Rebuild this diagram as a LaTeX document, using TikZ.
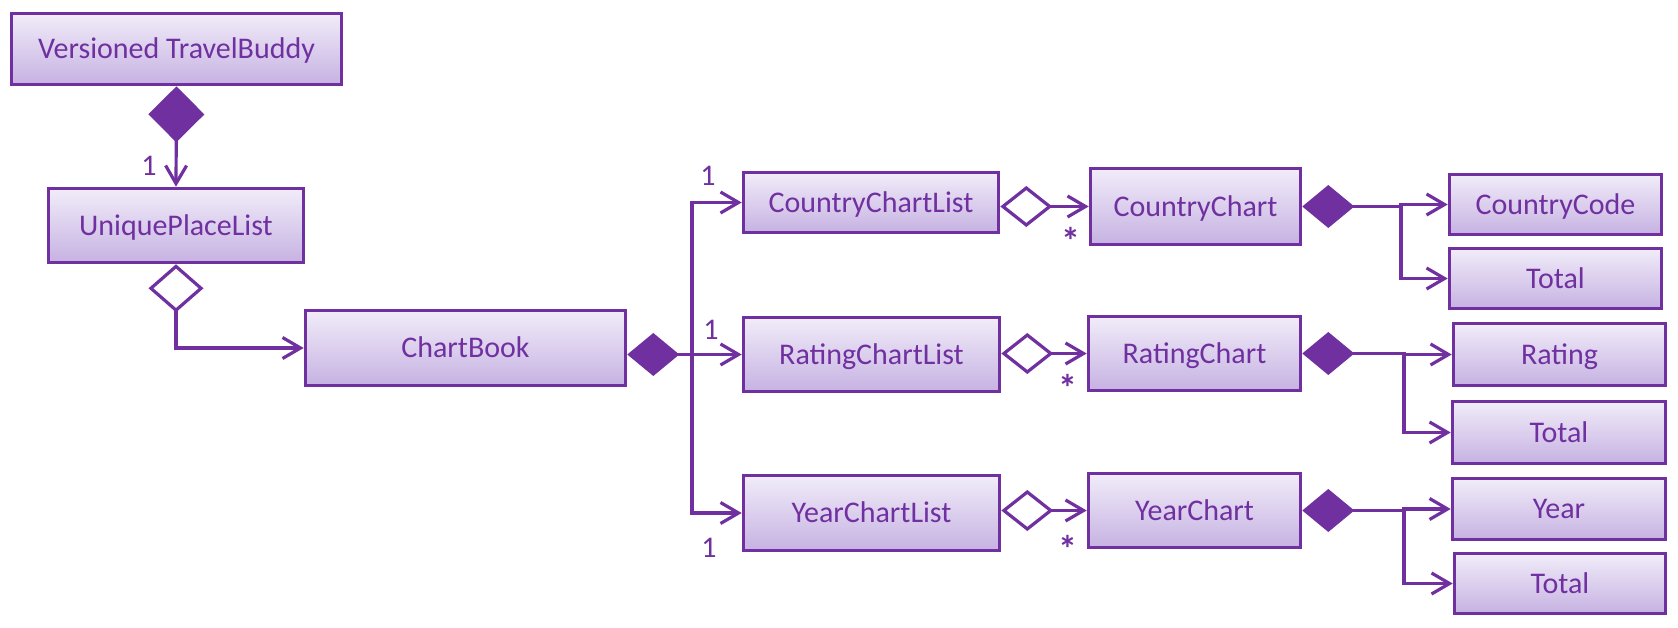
\documentclass[tikz,border=0pt]{standalone}
\usepackage{fontspec}
\setmainfont{Carlito}
\usetikzlibrary{arrows.meta}
\definecolor{pborder}{RGB}{112,48,160}
\definecolor{ptop}{RGB}{241,236,249}
\definecolor{pbot}{RGB}{198,178,226}
\begin{document}
\begin{tikzpicture}[x=1pt,y=-1pt,
  cls/.style={draw=pborder, line width=3.6pt, top color=ptop, bottom color=pbot,
    text=pborder, inner sep=0pt, font=\fontsize{30}{35}\selectfont,
    text height=19.3pt, text depth=0pt},
  lbl/.style={text=pborder, inner sep=0pt, font=\fontsize{30}{35}\selectfont,
    text height=18.9pt, text depth=0pt},
  star/.style={text=pborder, inner sep=0pt, font=\fontsize{38}{40}\selectfont\bfseries,
    text height=24.5pt, text depth=0pt, anchor=north},
  conn/.style={draw=pborder, line width=3.2pt},
  assoc/.style={conn, -{Straight Barb[length=18pt,width=21pt]}},
  compo/.style={conn, {Diamond[length=52pt,width=43pt]}-{Straight Barb[length=18pt,width=21pt]}},
  compov/.style={conn, {Diamond[length=56pt,width=56pt]}-{Straight Barb[length=18pt,width=21pt]}},
  aggr/.style={conn, {Diamond[fill=white,length=52pt,width=41pt]}-{Straight Barb[length=18pt,width=21pt]}},
  aggrv/.style={conn, {Diamond[fill=white,length=48pt,width=55pt]}-{Straight Barb[length=18pt,width=21pt]}},
]
\useasboundingbox (0,0) rectangle (1678,628);

\node[cls, minimum width=330pt, minimum height=71pt] (vtb) at (176.5,49) {Versioned TravelBuddy};
\node[cls, minimum width=255pt, minimum height=74pt] (upl) at (176,225.5) {UniquePlaceList};
\node[cls, minimum width=320pt, minimum height=75pt] (cb) at (465.5,348) {ChartBook};

\node[cls, minimum width=255pt, minimum height=60pt] (ccl) at (871,202.5) {CountryChartList};
\node[cls, minimum width=256pt, minimum height=74pt] (rcl) at (871.5,354.5) {RatingChartList};
\node[cls, minimum width=256pt, minimum height=75pt] (ycl) at (871.5,513) {YearChartList};

\node[cls, minimum width=210pt, minimum height=76pt] (cc) at (1195.5,206.5) {CountryChart};
\node[cls, minimum width=212pt, minimum height=74pt] (rc) at (1194.5,353.5) {RatingChart};
\node[cls, minimum width=212pt, minimum height=74pt] (yc) at (1194.5,510.5) {YearChart};

\node[cls, minimum width=212pt, minimum height=60pt] (ccode) at (1555.5,204.5) {CountryCode};
\node[cls, minimum width=212pt, minimum height=60pt] (tot1) at (1555.5,278.5) {Total};
\node[cls, minimum width=212pt, minimum height=62pt] (rat) at (1559.5,354.5) {Rating};
\node[cls, minimum width=213pt, minimum height=62pt] (tot2) at (1559,432.5) {Total};
\node[cls, minimum width=213pt, minimum height=61pt] (year) at (1559,509) {Year};
\node[cls, minimum width=211pt, minimum height=60pt] (tot3) at (1560,583.5) {Total};

% connectors
\draw[compov] (vtb.south) -- (upl.north);
\node[lbl] (l1) at (149,166) {1};

\draw[aggrv] (upl.south) |- (cb.west);

\coordinate (bus) at (692,354.5);
\draw[compo] (cb.east |- rcl.west) -- (rcl.west);
\draw[assoc] (bus) |- (ccl.west);
\draw[assoc] (bus) |- (ycl.west);
\node[lbl] (l2) at (708,176) {1};
\node[lbl] (l3) at (711,330) {1};
\node[lbl] (l4) at (709,548) {1};

\draw[aggr] (ccl.east |- cc.west) -- (cc.west);
\draw[aggr] (rcl.east |- rc.west) -- (rc.west);
\draw[aggr] (ycl.east |- yc.west) -- (yc.west);
\node[star] (s1) at (1071,230) {*};
\node[star] (s2) at (1068,377) {*};
\node[star] (s3) at (1068,538) {*};

\coordinate (bc) at (1401,206.5);
\draw[compo] (cc.east) -- (bc) |- (ccode.west);
\draw[assoc] (bc) |- (tot1.west);

\coordinate (br) at (1404,353.5);
\draw[compo] (rc.east) -- (br) |- (rat.west);
\draw[assoc] (br) |- (tot2.west);

\coordinate (by) at (1404,510.5);
\draw[compo] (yc.east) -- (by) |- (year.west);
\draw[assoc] (by) |- (tot3.west);
\end{tikzpicture}
\end{document}
